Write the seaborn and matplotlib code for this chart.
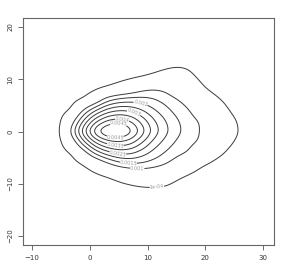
import numpy as np
import matplotlib
matplotlib.use("Agg")
import matplotlib.pyplot as plt
import seaborn as sns

# Estimated density (units of 1e-4) on a 2-unit grid
grid_x = [-7, -5, -3, -1, 1, 3, 5, 7, 9, 11, 13, 15, 17, 19, 21, 23, 25, 27]
grid_y = [14, 12, 10, 8, 6, 4, 2, 0, -2, -4, -6, -8, -10, -12, -14]
dens_y14 = [0, 0, 0, 0, 0, 0, 0, 0, 0, 0, 0, 0, 0, 0, 0, 0, 0, 0]
dens_y12 = [0, 0, 0, 0, 0, 0, 0, 0, 0, 0.3, 0.8, 1.2, 1.0, 0, 0, 0, 0, 0]
dens_y10 = [0, 0, 0, 0, 0, 0, 0.15, 0.45, 0.95, 1.8, 2.6, 2.6, 2.0, 0.75, 0, 0, 0, 0]
dens_y8 = [0, 0, 0, 0, 0.25, 0.95, 2.5, 5.1, 8.9, 10.6, 9.4, 5.7, 3.9, 1.6, 0.66, 0, 0, 0]
dens_y6 = [0, 0, 0, 0.5, 4.4, 13.5, 17.2, 18.3, 17.6, 15.8, 13.4, 10.8, 7.6, 3.2, 1.9, 0.8, 0, 0]
dens_y4 = [0, 0, 0.5, 11.0, 20.4, 27.5, 30.4, 29.4, 25.6, 21.0, 16.9, 13.3, 11.0, 5.9, 3.9, 1.72, 0.45, 0]
dens_y2 = [0, 0, 7.5, 21.3, 34.2, 41.4, 43.5, 40.6, 33.6, 26.1, 20.5, 15.8, 12.5, 10.2, 5.7, 2.6, 1.25, 0]
dens_y0 = [0, 0, 12.8, 30.4, 45.9, 52.6, 53.4, 48.4, 38.5, 28.7, 21.9, 16.7, 13.0, 10.4, 5.8, 2.75, 1.6, 0]
dens_ym2 = [0, 0, 5.8, 19.1, 31.6, 38.1, 40.2, 37.6, 30.7, 23.6, 18.4, 14.3, 11.7, 10.05, 4.2, 2.1, 0.91, 0]
dens_ym4 = [0, 0, 0.65, 6.6, 17.2, 23.7, 27.1, 26.8, 23.0, 18.5, 14.8, 11.9, 10.4, 4.2, 2.2, 1.13, 0.2, 0]
dens_ym6 = [0, 0, 0, 0.85, 3.5, 9.0, 13.9, 15.9, 15.2, 13.3, 11.2, 7.6, 3.8, 1.5, 0.8, 0.2, 0, 0]
dens_ym8 = [0, 0, 0, 0, 0.5, 1.2, 2.6, 4.5, 6.0, 5.9, 4.4, 2.0, 0.93, 0.3, 0, 0, 0, 0]
dens_ym10 = [0, 0, 0, 0, 0, 0, 0.4, 0.8, 1.26, 1.35, 1.2, 0.35, 0, 0, 0, 0, 0, 0]
dens_ym12 = [0, 0, 0, 0, 0, 0, 0, 0, 0, 0.1, 0, 0, 0, 0, 0, 0, 0, 0]
dens_ym14 = [0, 0, 0, 0, 0, 0, 0, 0, 0, 0, 0, 0, 0, 0, 0, 0, 0, 0]
dens_scale = 1e-4

levels = [1e-4, 0.001, 0.0015, 0.002, 0.0025, 0.003, 0.0035, 0.004, 0.0045, 0.005]
level_labels = ["1e-04", "0.001", "0.0015", "0.002", "0.0025", "0.003",
                "0.0035", "0.004", "0.0045", "0.005"]
label_spots = [(11.6, -10.4), (8.2, -7.4), (6.7, -5.9), (8.7, 5.0), (4.9, -3.9),
               (7.5, 3.3), (4.4, -2.7), (5.6, 2.2), (4.4, -1.5), (4.9, 0.7)]
x_ticks = [-10, 0, 10, 20, 30]
y_ticks = [-20, -10, 0, 10, 20]

rows = [dens_y14, dens_y12, dens_y10, dens_y8, dens_y6, dens_y4, dens_y2, dens_y0,
        dens_ym2, dens_ym4, dens_ym6, dens_ym8, dens_ym10, dens_ym12, dens_ym14]
Zc = np.array(rows[::-1]) * dens_scale
yc = np.array(grid_y[::-1], dtype=float)
xc = np.array(grid_x, dtype=float)


def lin_matrix(nodes, fine):
    """Piecewise-linear weights from grid nodes to fine positions."""
    M = np.zeros((len(fine), len(nodes)))
    for j in range(len(nodes)):
        e = np.zeros(len(nodes))
        e[j] = 1.0
        M[:, j] = np.interp(fine, nodes, e)
    return M


def blur_matrix(fine, sigma):
    """Gaussian kernel smoothing along one axis (rows normalised)."""
    G = np.exp(-0.5 * ((fine[:, None] - fine[None, :]) / sigma) ** 2)
    return G / G.sum(axis=1, keepdims=True)


xf = np.linspace(xc[0], xc[-1], 300)
yf = np.linspace(yc[0], yc[-1], 260)
Ax = blur_matrix(xf, 0.75) @ lin_matrix(xc, xf)
Ay = blur_matrix(yf, 0.75) @ lin_matrix(yc, yf)
Zf = Ay @ Zc @ Ax.T
X, Y = np.meshgrid(xf, yf)

sns.set_style("white")
fig = plt.figure(figsize=(2.88, 2.72), dpi=100)
ax = fig.add_axes([23 / 288, 27 / 272, 251 / 288, 227 / 272])
cs = ax.contour(X, Y, Zf, levels=levels, colors="#3a3a3a", linewidths=0.7)
ax.clabel(cs, inline=True, fontsize=3.6, colors="#999999",
          fmt=dict(zip(levels, level_labels)), manual=label_spots, inline_spacing=2)

ax.set_xlim(-11.56, 31.9)
ax.set_ylim(-21.72, 21.72)
ax.set_xticks(x_ticks)
ax.set_yticks(y_ticks)
ax.tick_params(axis="both", which="both", direction="out", length=3.6, width=0.6,
               color="#555555", labelsize=5, labelcolor="#333333", pad=3.5,
               bottom=True, left=True)
for lab in ax.get_yticklabels():
    lab.set_rotation(90)
    lab.set_va("center")
for sp in ax.spines.values():
    sp.set_color("#666666")
    sp.set_linewidth(0.8)
fig.savefig("out.png", dpi=100, facecolor="white")
